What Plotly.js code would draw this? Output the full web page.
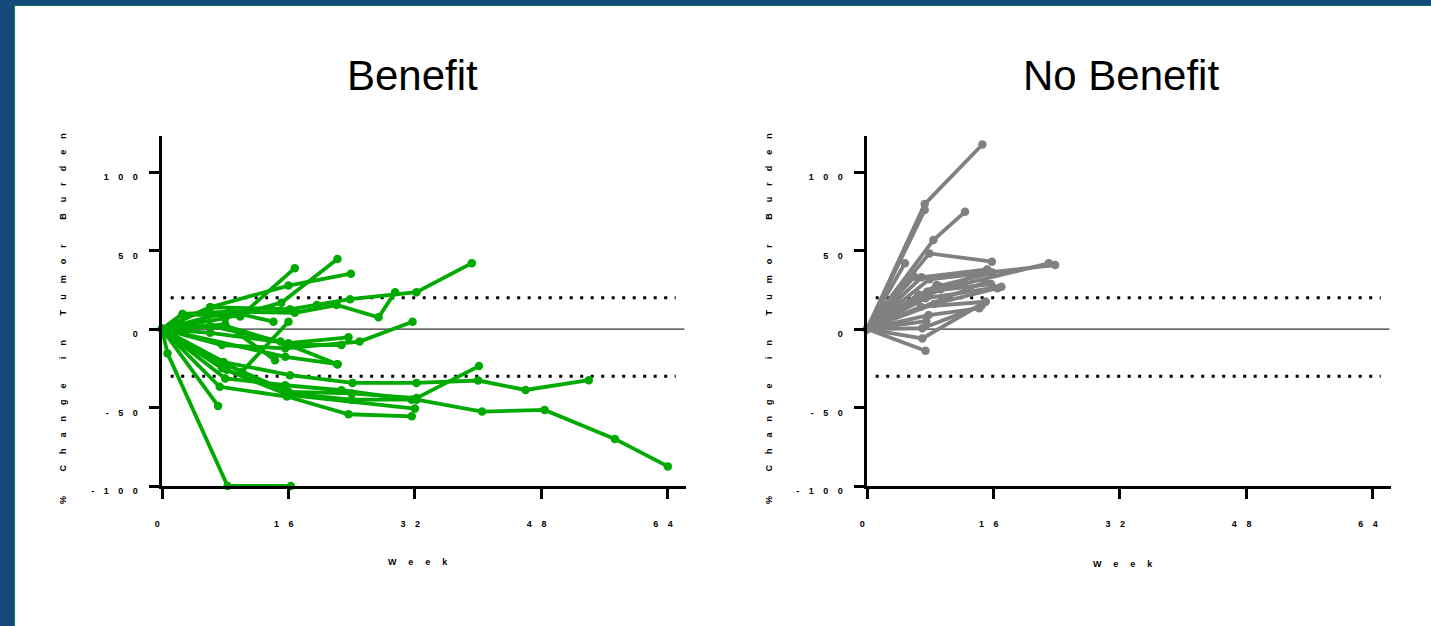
<!DOCTYPE html>
<html>
<head>
<meta charset="utf-8">
<script src="https://cdn.plot.ly/plotly-3.0.1.min.js"></script>
<style>
html, body { margin: 0; padding: 0; background: #ffffff; overflow: hidden; }
#chart { width: 1431px; height: 626px; }
.xtick text, .x2tick text, .ytick text, .y2tick text { letter-spacing: 9.5px !important; }
.annotation[data-index="2"] text, .annotation[data-index="3"] text { letter-spacing: 11px !important; }
.annotation[data-index="4"] text, .annotation[data-index="5"] text { letter-spacing: 12px !important; }
</style>
</head>
<body>
<div id="chart"></div>
<script>
// ---- Tick labels ----
const weekTickVals = [0, 16, 32, 48, 64];
const weekTickText = ["0", "16", "32", "48", "64"];
const changeTickVals = [-100, -50, 0, 50, 100];
const changeTickText = ["-100", "-50", "0", "50", "100"];

// ---- Reference thresholds (% change) ----
const thresholds = [20, -30];

// ---- Panel titles ----
const panelTitles = ["Benefit", "No Benefit"];
const xTitle = "Week";
const yTitle = "% Change in Tumor Burden";

// ---- Benefit group: weeks and % change per patient ----
const benefitWeek = [
  [0, 2.6, 9.9, 16.8],
  [0, 6.1, 16, 23.9],
  [0, 8, 15.1, 22.2],
  [0, 6.1, 16.2, 19.6, 23.8, 32.2, 39.2],
  [0, 8.6, 16.8, 22.1, 27.4, 29.5],
  [0, 2.6, 8.6, 14.1],
  [0, 7.6, 15.6, 25, 31.7],
  [0, 6.1, 16, 23.6],
  [0, 10.1, 16],
  [0, 6.1, 15, 22.2],
  [0, 0.7, 8.3, 16.3],
  [0, 7.1],
  [0, 7.8, 16.2, 24.1, 32.2, 40, 46, 54],
  [0, 8.2, 15.8, 24, 32.2, 40.5, 48.4, 57.3, 64],
  [0, 8, 15.6, 22.7, 31.6],
  [0, 7.3, 15.8, 23.6, 31.6],
  [0, 7.8, 16, 24, 32.2, 40.1],
  [0, 7.6, 16, 32],
  [0, 15.6, 22.2],
  [0, 8, 14.3],
  [0, 8, 16, 22.7]
];
const benefitChange = [
  [0, 9.6, 8, 38.8],
  [0, 13.9, 27.7, 35.3],
  [0, 7, 16.8, 44.7],
  [0, 13.9, 12.6, 15.3, 19, 23.5, 42],
  [0, 11.1, 10.4, 15.3, 7.5, 23.5],
  [0, 9.6, 11.1, 4.7],
  [0, -10.2, -12.3, -8, 4.7],
  [0, -2.4, -9, -5.3],
  [0, -27.3, 4.7],
  [0, 2, -8, -22.4],
  [0, -15.5, -100, -100],
  [0, -49],
  [0, -21, -29.4, -34.3, -34.3, -32.8, -38.8, -32.6],
  [0, -26, -41, -45, -45, -52.6, -51.5, -70, -87.5],
  [0, -31.5, -35.8, -39, -45],
  [0, -36.8, -43, -54.3, -55.6],
  [0, -22, -40, -41, -44, -23.6],
  [0, -25, -42, -50.7],
  [0, -17.7, -22.4],
  [0, 3, -19.8],
  [0, 2, -10, -10.2]
];

// ---- No Benefit group ----
const noBenefitWeek = [
  [0, 7.3, 14.6],
  [0, 7.3],
  [0, 8.4, 12.4],
  [0, 7.9, 15.8],
  [0, 4.8],
  [0, 9.3, 23],
  [0, 7.9, 23.8],
  [0, 6.9, 15.2],
  [0, 9.1, 15.9],
  [0, 7.6, 15.7],
  [0, 7.4, 17],
  [0, 6.8, 15],
  [0, 7.8, 14.2],
  [0, 7, 15],
  [0, 7.4],
  [0, 7, 14.5],
  [0, 6],
  [0, 8.5, 16.5],
  [0, 7.5],
  [0, 10, 15],
  [0, 7.9],
  [0, 6.5, 15.5],
  [0, 8.8]
];
const noBenefitChange = [
  [0, 79.6, 117.6],
  [0, 75.8],
  [0, 56.7, 74.7],
  [0, 48.2, 42.9],
  [0, 41.9],
  [0, 25.3, 41.9],
  [0, 31.7, 40.8],
  [0, 33, 38],
  [0, 27.4, 35.9],
  [0, 23.8, 28.7],
  [0, 19.6, 27],
  [0, 14.2, 17.4],
  [0, 8.9, 13.2],
  [0, -6, 17.4],
  [0, -13.8],
  [0, 0.5, 15],
  [0, 33.3],
  [0, 16, 26],
  [0, 5],
  [0, 20, 30],
  [0, 24],
  [0, 22, 36.5],
  [0, 28]
];

const GREEN = "#00aa00";
const GREY = "#808080";
const FONT = "Arial, 'Liberation Sans', sans-serif";

function makeTraces(weeks, changes, color, xa, ya) {
  return weeks.map((w, i) => ({
    type: "scatter",
    mode: "lines+markers",
    x: w,
    y: changes[i],
    xaxis: xa,
    yaxis: ya,
    line: { color: color, width: 3.8 },
    marker: { color: color, size: 8.5 },
    cliponaxis: false,
    showlegend: false,
    hoverinfo: "skip"
  }));
}

const traces = makeTraces(benefitWeek, benefitChange, GREEN, "x", "y")
  .concat(makeTraces(noBenefitWeek, noBenefitChange, GREY, "x2", "y2"));

const W = 1431, H = 626;
const px = v => v / W;
const py = v => 1 - v / H;

const xRange = [0, 66.3];
const yRange = [-100, 123];

const tickFont = { family: FONT, size: 9, color: "#000", weight: "bold" };

function xAxisDef(domain, anchor) {
  return {
    domain: domain, anchor: anchor, range: xRange,
    tickmode: "array", tickvals: weekTickVals, ticktext: weekTickText,
    showline: true, linecolor: "#000", linewidth: 3,
    ticks: "outside", ticklen: 10, tickwidth: 3, tickcolor: "#000",
    showgrid: false, zeroline: false, automargin: false,
    ticklabelstandoff: 17,
    tickfont: tickFont
  };
}
function yAxisDef(domain, anchor) {
  return {
    domain: domain, anchor: anchor, range: yRange,
    tickmode: "array", tickvals: changeTickVals, ticktext: changeTickText,
    showline: true, linecolor: "#000", linewidth: 3,
    ticks: "outside", ticklen: 10, tickwidth: 3, tickcolor: "#000",
    showgrid: false, zeroline: false, automargin: false,
    ticklabelshift: 5,
    tickfont: tickFont
  };
}

const yDomain = [py(486), py(136)];

const shapes = [];
// frame
shapes.push({ type: "rect", xref: "paper", yref: "paper", x0: 0, x1: px(14), y0: 0, y1: 1, fillcolor: "#15487b", line: { width: 0 }, layer: "above" });
shapes.push({ type: "rect", xref: "paper", yref: "paper", x0: 0, x1: 1, y0: py(5), y1: 1, fillcolor: "#15487b", line: { width: 0 }, layer: "above" });
shapes.push({ type: "line", xref: "paper", yref: "paper", x0: px(14.5), x1: px(14.5), y0: 0, y1: py(5), line: { color: "#127a5e", width: 1.2 }, layer: "above" });
shapes.push({ type: "line", xref: "paper", yref: "paper", x0: px(14.5), x1: 1, y0: py(5.5), y1: py(5.5), line: { color: "#127a5e", width: 1.2 }, layer: "above" });

[["x", "y"], ["x2", "y2"]].forEach(([xa, ya]) => {
  shapes.push({ type: "line", xref: xa, yref: ya, x0: 0, x1: 66.1, y0: 0, y1: 0, line: { color: "#333", width: 1.3 }, layer: "below" });
  thresholds.forEach(t => {
    shapes.push({ type: "line", xref: xa, yref: ya, x0: 1.1, x1: 65, y0: t, y1: t, line: { color: "#000", width: 3, dash: "3px,7.5px" }, layer: "below" });
  });
});

const annFont = { family: FONT, size: 9, color: "#000", weight: "bold" };
const annotations = [
  { text: panelTitles[0], xref: "paper", yref: "paper", x: px(412), y: py(75), xanchor: "center", yanchor: "middle", showarrow: false, font: { family: FONT, size: 42, color: "#000" } },
  { text: panelTitles[1], xref: "paper", yref: "paper", x: px(1120.5), y: py(75), xanchor: "center", yanchor: "middle", showarrow: false, font: { family: FONT, size: 42, color: "#000" } },
  { text: yTitle, xref: "paper", yref: "paper", x: px(63), y: py(313), xanchor: "center", yanchor: "middle", textangle: -90, showarrow: false, font: annFont },
  { text: yTitle, xref: "paper", yref: "paper", x: px(769), y: py(313), xanchor: "center", yanchor: "middle", textangle: -90, showarrow: false, font: annFont },
  { text: xTitle, xref: "paper", yref: "paper", x: px(424), y: py(562), xanchor: "center", yanchor: "middle", showarrow: false, font: annFont },
  { text: xTitle, xref: "paper", yref: "paper", x: px(1129), y: py(564), xanchor: "center", yanchor: "middle", showarrow: false, font: annFont }
];

const layout = {
  width: W, height: H,
  margin: { l: 0, r: 0, t: 0, b: 0, pad: 0 },
  paper_bgcolor: "#ffffff", plot_bgcolor: "rgba(0,0,0,0)",
  showlegend: false,
  font: { family: FONT },
  xaxis: xAxisDef([px(162), px(686)], "y"),
  yaxis: yAxisDef(yDomain, "x"),
  xaxis2: xAxisDef([px(867), px(1391)], "y2"),
  yaxis2: yAxisDef(yDomain, "x2"),
  shapes: shapes,
  annotations: annotations
};

Plotly.newPlot("chart", traces, layout, { staticPlot: true, displayModeBar: false });
</script>
</body>
</html>
